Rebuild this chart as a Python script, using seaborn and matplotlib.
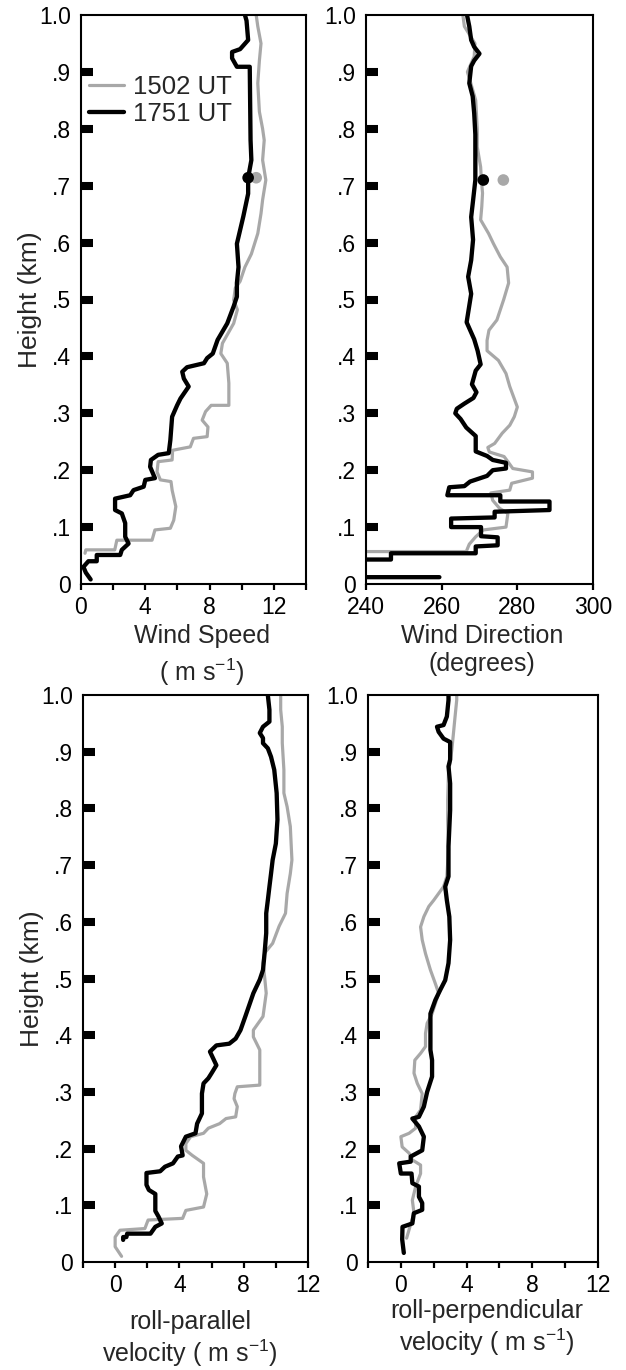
import numpy as np
import seaborn as sns
import matplotlib.pyplot as plt

# ---- data (heights in km) ----
# Wind speed (m/s)
ws_h_1751 = [0.008, 0.02, 0.03, 0.040, 0.040, 0.051, 0.051, 0.06, 0.071, 0.083, 0.107, 0.124, 0.13, 0.15,
             0.156, 0.165, 0.171, 0.183, 0.186, 0.206, 0.218, 0.227, 0.23, 0.253, 0.294, 0.314, 0.326, 0.347,
             0.361, 0.373, 0.381, 0.388, 0.397, 0.405, 0.429, 0.458, 0.488, 0.505, 0.529, 0.557, 0.598, 0.616,
             0.646, 0.686, 0.714, 0.745, 0.78, 0.909, 0.909, 0.924, 0.935, 0.94, 0.956, 0.99, 1.0]
ws_v_1751 = [0.6, 0.3, 0.15, 0.46, 0.98, 0.98, 2.44, 2.54, 2.96, 2.75, 2.75, 2.54, 2.12, 2.12,
             3.06, 3.27, 3.9, 4.0, 4.6, 4.3, 4.35, 4.8, 5.46, 5.56, 5.67, 5.98, 6.19, 6.7,
             6.4, 6.3, 6.6, 7.65, 7.85, 8.2, 8.5, 9.1, 9.5, 9.7, 9.7, 9.8, 9.7, 9.85,
             10.1, 10.4, 10.4, 10.6, 10.55, 10.5, 9.7, 9.4, 9.4, 9.9, 10.4, 10.3, 10.2]
ws_h_1502 = [0.054, 0.06, 0.06, 0.077, 0.077, 0.095, 0.098, 0.112, 0.136, 0.165, 0.18, 0.183, 0.197, 0.215,
             0.218, 0.235, 0.241, 0.256, 0.259, 0.276, 0.288, 0.303, 0.314, 0.314, 0.353, 0.388, 0.405, 0.423,
             0.438, 0.458, 0.482, 0.499, 0.52, 0.532, 0.557, 0.58, 0.616, 0.651, 0.675, 0.71, 0.745, 0.78,
             0.80, 0.83, 0.88, 0.92, 0.95, 0.98, 1.0]
ws_v_1502 = [0.25, 0.3, 2.1, 2.23, 4.42, 4.6, 5.56, 5.77, 5.9, 5.67, 5.6, 4.94, 4.73, 4.8,
             5.67, 5.7, 6.8, 7.0, 7.85, 7.9, 7.54, 7.75, 8.1, 9.2, 9.2, 9.1, 8.7, 8.8,
             9.1, 9.5, 9.73, 9.5, 9.6, 9.9, 10.2, 10.6, 11.0, 11.2, 11.3, 11.5, 11.3, 11.4,
             11.3, 11.1, 11.0, 11.1, 11.2, 11.0, 10.9]
ws_dot_h = 0.714
ws_dot_1751 = 10.4
ws_dot_1502 = 10.9

# Wind direction (degrees); values < 240 are off scale
wd_h_1751 = [0.012, 0.012, 0.043, 0.043, 0.054, 0.054, 0.066, 0.068, 0.082, 0.084, 0.1, 0.1, 0.115, 0.117,
             0.127, 0.13, 0.145, 0.145, 0.156, 0.156, 0.17, 0.172, 0.18, 0.19, 0.2, 0.203, 0.213, 0.218,
             0.225, 0.233, 0.26, 0.275, 0.29, 0.3, 0.308, 0.317, 0.327, 0.337, 0.351, 0.375, 0.386, 0.41,
             0.43, 0.46, 0.51, 0.54, 0.569, 0.605, 0.645, 0.674, 0.71, 0.75, 0.79, 0.827, 0.857, 0.88,
             0.91, 0.92, 0.932, 0.944, 0.956, 0.98, 1.0]
wd_d_1751 = [259.4, 230, 230, 246.6, 246.6, 269, 269, 274.8, 274.8, 270.4, 270.4, 262.5, 262.5, 274,
             274, 288.5, 288.5, 275.5, 275.5, 261.5, 262, 266, 267.5, 272, 273.5, 277, 277, 273.5,
             272, 269, 269, 266.5, 265, 263.6, 264, 266, 268.4, 269.2, 268, 269, 270.3, 269.5,
             268.6, 266.6, 267.8, 267, 267.8, 268.3, 267.8, 268.3, 268.9, 268.9, 268.9, 268.6, 268.2, 267.3,
             267.8, 268.6, 270, 268.6, 267.8, 267.3, 266.7]
wd_h_1502 = [0.057, 0.057, 0.07, 0.083, 0.095, 0.1, 0.124, 0.133, 0.147, 0.16, 0.165, 0.177, 0.186, 0.197,
             0.203, 0.215, 0.224, 0.232, 0.24, 0.247, 0.265, 0.279, 0.294, 0.311, 0.347, 0.37, 0.393, 0.41,
             0.428, 0.446, 0.464, 0.5, 0.529, 0.557, 0.575, 0.598, 0.616, 0.64, 0.663, 0.687, 0.71, 0.733,
             0.768, 0.8, 0.85, 0.88, 0.9, 0.927, 0.95, 0.98, 1.0]
wd_d_1502 = [230, 266.5, 267.3, 269, 271, 277, 277.5, 275.3, 273.5, 273, 278, 278.5, 284, 284,
             278.8, 277.5, 276.5, 272.6, 272.2, 274, 276, 278, 279.2, 280, 278, 277, 275, 272,
             272, 272.5, 274.6, 276.4, 277.7, 277.3, 275.5, 273.7, 272.4, 270.3, 270.6, 270.8, 270.5, 270.3,
             269.4, 269.4, 269, 267.7, 266.8, 268.6, 268.8, 266, 265.6]
wd_dot_h = 0.71
wd_dot_1751 = 271
wd_dot_1502 = 276.3

# roll-parallel velocity (m/s)
rp_h_1751 = [0.039, 0.044, 0.044, 0.05, 0.05, 0.062, 0.068, 0.08, 0.09, 0.12, 0.127, 0.136, 0.157, 0.16,
             0.168, 0.174, 0.186, 0.188, 0.204, 0.221, 0.227, 0.244, 0.262, 0.297, 0.315, 0.324, 0.333, 0.347,
             0.359, 0.371, 0.382, 0.385, 0.394, 0.409, 0.433, 0.474, 0.498, 0.515, 0.545, 0.58, 0.615, 0.638,
             0.662, 0.685, 0.709, 0.738, 0.78, 0.827, 0.868, 0.891, 0.906, 0.915, 0.924, 0.933, 0.944, 0.953,
             0.974, 1.0]
rp_v_1751 = [0.5, 0.5, 0.7, 0.75, 2.2, 2.5, 2.9, 2.7, 2.5, 2.5, 2.1, 1.95, 1.95, 2.8,
             3.1, 3.6, 3.9, 4.2, 4.1, 4.4, 5.0, 5.1, 5.4, 5.4, 5.5, 5.8, 6.0, 6.3,
             6.1, 5.9, 6.3, 7.1, 7.5, 7.8, 8.1, 8.6, 9.0, 9.2, 9.3, 9.4, 9.4, 9.5,
             9.6, 9.7, 9.8, 10.0, 10.1, 10.05, 9.9, 9.7, 9.5, 9.2, 9.2, 9.0, 9.2, 9.6,
             9.6, 9.5]
rp_h_1502 = [0.01, 0.027, 0.044, 0.056, 0.059, 0.074, 0.077, 0.091, 0.097, 0.12, 0.15, 0.174, 0.18, 0.188,
             0.197, 0.209, 0.221, 0.227, 0.236, 0.244, 0.253, 0.256, 0.274, 0.288, 0.297, 0.309, 0.312, 0.326,
             0.374, 0.397, 0.409, 0.433, 0.474, 0.503, 0.527, 0.545, 0.562, 0.592, 0.615, 0.65, 0.685, 0.709,
             0.738, 0.768, 0.803, 0.827, 0.868, 0.915, 0.944, 0.974, 1.0]
rp_v_1502 = [0.4, 0.0, 0.0, 0.3, 1.85, 2.05, 4.2, 4.4, 5.5, 5.7, 5.5, 5.5, 5.2, 4.8,
             4.4, 4.4, 4.7, 5.5, 5.8, 6.5, 6.9, 7.5, 7.6, 7.4, 7.45, 7.6, 9.0, 9.0,
             9.0, 8.6, 8.6, 9.2, 9.4, 9.3, 9.2, 9.3, 9.8, 10.2, 10.6, 10.7, 10.9, 11.0,
             10.95, 10.9, 10.7, 10.5, 10.5, 10.4, 10.4, 10.3, 10.3]

# roll-perpendicular velocity (m/s)
rn_h_1751 = [0.016, 0.04, 0.062, 0.068, 0.086, 0.092, 0.104, 0.115, 0.133, 0.139, 0.156, 0.156, 0.174, 0.177,
             0.186, 0.197, 0.221, 0.239, 0.253, 0.256, 0.274, 0.3, 0.327, 0.356, 0.374, 0.438, 0.462, 0.48,
             0.497, 0.527, 0.568, 0.609, 0.638, 0.662, 0.68, 0.733, 0.797, 0.844, 0.874, 0.886, 0.917, 0.923,
             0.935, 0.944, 0.947, 0.962, 0.991, 1.0]
rn_v_1751 = [0.18, 0.08, 0.1, 0.7, 0.79, 1.3, 1.3, 1.1, 1.1, 0.7, 0.65, 0.0, -0.1, 0.6,
             0.6, 1.3, 1.4, 1.1, 0.7, 1.1, 1.4, 1.6, 1.9, 1.9, 1.8, 1.8, 2.1, 2.4,
             2.7, 2.9, 3.0, 2.95, 2.8, 2.7, 2.9, 2.9, 3.0, 3.0, 2.9, 3.0, 3.0, 2.6,
             2.3, 2.2, 2.6, 2.8, 2.9, 2.9]
rn_h_1502 = [0.042, 0.062, 0.086, 0.109, 0.133, 0.156, 0.171, 0.18, 0.192, 0.203, 0.221, 0.227, 0.236, 0.256,
             0.268, 0.297, 0.315, 0.333, 0.356, 0.368, 0.38, 0.403, 0.421, 0.438, 0.474, 0.491, 0.515, 0.544,
             0.568, 0.591, 0.609, 0.627, 0.638, 0.65, 0.662, 0.68, 0.727, 0.78, 0.815, 0.862, 0.903, 0.932,
             0.962, 0.991, 1.0]
rn_v_1502 = [0.35, 0.55, 0.8, 0.7, 0.9, 1.2, 1.2, 0.7, 0.5, 0.08, 0.0, 0.5, 0.9, 0.9,
             1.2, 1.3, 1.0, 0.8, 0.85, 1.2, 1.5, 1.5, 1.6, 1.9, 2.3, 2.1, 1.8, 1.5,
             1.3, 1.2, 1.4, 1.7, 2.0, 2.3, 2.6, 2.8, 2.9, 2.85, 2.85, 2.9, 3.1, 3.2,
             3.3, 3.4, 3.4]

height_ticks = [0, 0.1, 0.2, 0.3, 0.4, 0.5, 0.6, 0.7, 0.8, 0.9, 1.0]
height_labels = ['0', '.1', '.2', '.3', '.4', '.5', '.6', '.7', '.8', '.9', '1.0']

GRAY = '#a8a8a8'
BLACK = '#000000'

sns.set_style("white")
plt.rcParams['font.family'] = ['Liberation Sans', 'DejaVu Sans']
plt.rcParams['mathtext.default'] = 'regular'

fig = plt.figure(figsize=(6.26, 13.7), dpi=100)
ax_ws = fig.add_axes([81 / 626, 1 - 584 / 1370, 225 / 626, 569 / 1370])
ax_wd = fig.add_axes([366 / 626, 1 - 584 / 1370, 227 / 626, 569 / 1370])
ax_rp = fig.add_axes([83 / 626, 1 - 1262 / 1370, 225 / 626, 567 / 1370])
ax_rn = fig.add_axes([368 / 626, 1 - 1262 / 1370, 230 / 626, 567 / 1370])


def draw_profiles(ax, v_gray, h_gray, v_black, h_black, legend=False):
    sns.lineplot(x=v_gray, y=h_gray, sort=False, estimator=None, color=GRAY, linewidth=2.3,
                 ax=ax, label='1502 UT' if legend else None, legend=legend)
    sns.lineplot(x=v_black, y=h_black, sort=False, estimator=None, color=BLACK, linewidth=3.1,
                 ax=ax, label='1751 UT' if legend else None, legend=legend)


def style_axes(ax, xlim, xticks, xlabels, xlabel, label_xy, ylabel=True, spacing=1.3):
    ax.set_xlim(*xlim)
    ax.set_ylim(0, 1.0)
    ax.set_xticks(xticks)
    ax.set_xticklabels(xlabels)
    ax.set_yticks(height_ticks)
    ax.set_yticklabels(height_labels)
    for s in ax.spines.values():
        s.set_visible(True)
        s.set_linewidth(1.5)
        s.set_color('black')
    ax.tick_params(axis='x', direction='out', length=4.5, width=1.6, labelsize=16.5, pad=4,
                   bottom=True, colors='black')
    ax.tick_params(axis='y', direction='in', length=8.5, width=5.8, labelsize=16.5, pad=7,
                   left=True, colors='black')
    yt = ax.yaxis.get_major_ticks()
    yt[0].tick1line.set_visible(False)
    yt[-1].tick1line.set_visible(False)
    ax.set_xlabel(xlabel, fontsize=18, linespacing=spacing)
    ax.xaxis.set_label_coords(*label_xy)
    if ylabel:
        ax.set_ylabel('Height (km)', fontsize=19)
        ax.yaxis.set_label_coords(-0.175, 0.5)
    else:
        ax.set_ylabel('')


# Wind speed
draw_profiles(ax_ws, ws_v_1502, ws_h_1502, ws_v_1751, ws_h_1751, legend=True)
sns.scatterplot(x=[ws_dot_1502], y=[ws_dot_h], color=GRAY, s=70, edgecolor='none', ax=ax_ws, zorder=4)
sns.scatterplot(x=[ws_dot_1751], y=[ws_dot_h], color=BLACK, s=70, edgecolor='none', ax=ax_ws, zorder=5)
style_axes(ax_ws, (0, 14), [0, 2, 4, 6, 8, 10, 12, 14], ['0', '', '4', '', '8', '', '12', ''],
           'Wind Speed\n( m s$^{-1}$)', (0.538, -0.07), spacing=1.35)
ax_ws.legend(loc='upper left', bbox_to_anchor=(0.035, 0.895), frameon=False, fontsize=18.5,
             handlelength=1.35, handletextpad=0.35, labelspacing=0.12, borderpad=0, borderaxespad=0)

# Wind direction
draw_profiles(ax_wd, wd_d_1502, wd_h_1502, wd_d_1751, wd_h_1751)
sns.scatterplot(x=[wd_dot_1502], y=[wd_dot_h], color=GRAY, s=70, edgecolor='none', ax=ax_wd, zorder=4)
sns.scatterplot(x=[wd_dot_1751], y=[wd_dot_h], color=BLACK, s=70, edgecolor='none', ax=ax_wd, zorder=5)
style_axes(ax_wd, (240, 300), [240, 260, 280, 300], ['240', '260', '280', '300'],
           'Wind Direction\n(degrees)', (0.511, -0.07), ylabel=False, spacing=1.2)

# roll-parallel
draw_profiles(ax_rp, rp_v_1502, rp_h_1502, rp_v_1751, rp_h_1751)
style_axes(ax_rp, (-2, 12), [-2, 0, 2, 4, 6, 8, 10, 12], ['', '0', '', '4', '', '8', '', '12'],
           'roll-parallel\nvelocity ( m s$^{-1}$)', (0.476, -0.084), spacing=1.15)

# roll-perpendicular
draw_profiles(ax_rn, rn_v_1502, rn_h_1502, rn_v_1751, rn_h_1751)
style_axes(ax_rn, (-2, 12), [-2, 0, 2, 4, 6, 8, 10, 12], ['', '0', '', '4', '', '8', '', '12'],
           'roll-perpendicular\nvelocity ( m s$^{-1}$)', (0.517, -0.066), ylabel=False, spacing=1.15)

fig.savefig('out.png', dpi=100, facecolor='white')
